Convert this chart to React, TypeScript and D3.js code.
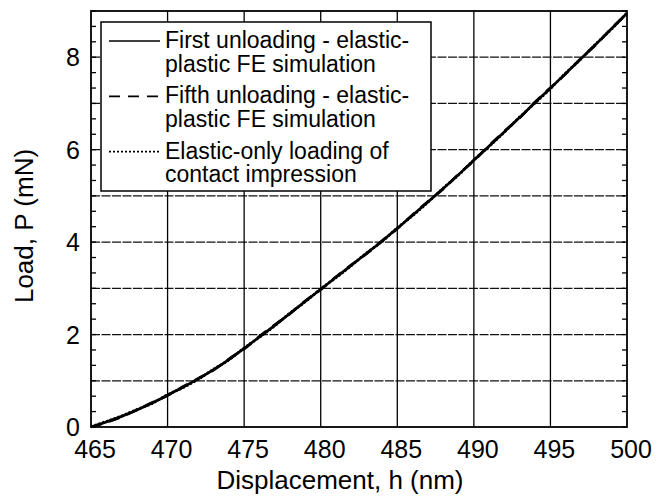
import React from "react";
import * as d3 from "d3";

const H = [465, 466, 467, 468, 469, 470, 471, 472, 473, 474, 475, 476, 477, 478, 479, 480, 481, 482, 483, 484, 485, 486, 487, 488, 489, 490, 491, 492, 493, 494, 495, 496, 497, 498, 499, 500];
const FIRST = [0.0, 0.11, 0.23, 0.37, 0.52, 0.69, 0.86, 1.04, 1.24, 1.46, 1.7, 1.95, 2.2, 2.46, 2.72, 2.98, 3.24, 3.5, 3.76, 4.02, 4.3, 4.58, 4.87, 5.16, 5.46, 5.77, 6.08, 6.39, 6.7, 7.02, 7.33, 7.65, 7.97, 8.29, 8.62, 8.95];
const FIFTH = [0.0, 0.1, 0.22, 0.37, 0.53, 0.68, 0.87, 1.05, 1.23, 1.47, 1.69, 1.96, 2.21, 2.45, 2.73, 2.97, 3.25, 3.51, 3.75, 4.03, 4.29, 4.59, 4.88, 5.15, 5.47, 5.76, 6.09, 6.4, 6.69, 7.03, 7.34, 7.64, 7.98, 8.28, 8.63, 8.94];
const ELASTIC = [0.01, 0.12, 0.24, 0.38, 0.51, 0.7, 0.85, 1.03, 1.25, 1.45, 1.71, 1.94, 2.19, 2.47, 2.71, 2.99, 3.23, 3.49, 3.77, 4.01, 4.31, 4.57, 4.86, 5.17, 5.45, 5.78, 6.07, 6.38, 6.71, 7.01, 7.32, 7.66, 7.96, 8.3, 8.61, 8.96];

const X_TICKS = [465, 470, 475, 480, 485, 490, 495, 500];
const X_GRID = [470, 475, 480, 485, 490, 495];
const Y_LABELS = [0, 2, 4, 6, 8];
const Y_GRID = [1, 2, 3, 4, 5, 6, 7, 8];
const Y_MINOR = d3.range(0, 28).map((k) => k / 3);

const LEGEND = [
  { lines: ["First unloading - elastic-", "plastic FE simulation"], dash: "none" },
  { lines: ["Fifth unloading - elastic-", "plastic FE simulation"], dash: "11,8" },
  { lines: ["Elastic-only loading of", "contact impression"], dash: "2,2" },
];

const FONT = "'Liberation Sans', Arial, Helvetica, sans-serif";

export default function App() {
  const L = 91, R = 627, T = 11, B = 427;
  const x = d3.scaleLinear().domain([465, 500]).range([L, R]);
  const y = d3.scaleLinear().domain([0, 9]).range([B, T]);
  const mk = (vals: number[]) =>
    d3
      .line<number>()
      .x((_, i) => x(H[i]))
      .y((v) => y(v))
      .curve(d3.curveMonotoneX)(vals) as string;

  const series = [
    { vals: FIRST, dash: "none" },
    { vals: FIFTH, dash: "11,8" },
    { vals: ELASTIC, dash: "2,2" },
  ];

  return (
    <svg
      width={665}
      height={496}
      style={{ position: "absolute", left: 0, top: 0, background: "#fff" }}
      fontFamily={FONT}
    >
      <rect x={0} y={0} width={665} height={496} fill="#fff" />
      {Y_GRID.map((v) => (
        <line key={"hg" + v} x1={L} x2={R} y1={y(v)} y2={y(v)} stroke="#111" strokeWidth={1.3} strokeDasharray="9,1.5" />
      ))}
      {X_GRID.map((v) => (
        <line key={"vg" + v} x1={x(v)} x2={x(v)} y1={T} y2={B} stroke="#000" strokeWidth={1.3} />
      ))}
      {Y_MINOR.map((v, i) => (
        <g key={"mt" + i}>
          <line x1={L} x2={L + 5} y1={y(v)} y2={y(v)} stroke="#000" strokeWidth={1.3} />
          <line x1={R - 5} x2={R} y1={y(v)} y2={y(v)} stroke="#000" strokeWidth={1.3} />
        </g>
      ))}
      {series.map((s, i) => (
        <path key={"s" + i} d={mk(s.vals)} fill="none" stroke="#000" strokeWidth={2.7} strokeDasharray={s.dash} />
      ))}
      <rect x={L} y={T} width={R - L} height={B - T} fill="none" stroke="#000" strokeWidth={1.8} />
      <rect x={101} y={22} width={330} height={169} fill="#fff" stroke="#000" strokeWidth={1.5} />
      {LEGEND.map((e, i) => {
        const base = 48 + i * 55.3;
        return (
          <g key={"lg" + i}>
            <line x1={109} x2={160} y1={base - 7} y2={base - 7} stroke="#000" strokeWidth={1.7} strokeDasharray={e.dash} />
            <text x={165} y={base} fontSize={23} fill="#000">{e.lines[0]}</text>
            <text x={165} y={base + 23.5} fontSize={23} fill="#000">{e.lines[1]}</text>
          </g>
        );
      })}
      {X_TICKS.map((v) => (
        <text key={"xt" + v} x={x(v) + 4} y={458} fontSize={25} textAnchor="middle" fill="#000">{v}</text>
      ))}
      {Y_LABELS.map((v) => (
        <text key={"yt" + v} x={80} y={y(v)} dy="0.36em" fontSize={25} textAnchor="end" fill="#000">{v}</text>
      ))}
      <text x={340} y={489} fontSize={26} textAnchor="middle" fill="#000">Displacement, h (nm)</text>
      <text transform="translate(33,226) rotate(-90)" fontSize={26} textAnchor="middle" fill="#000">Load, P (mN)</text>
    </svg>
  );
}
